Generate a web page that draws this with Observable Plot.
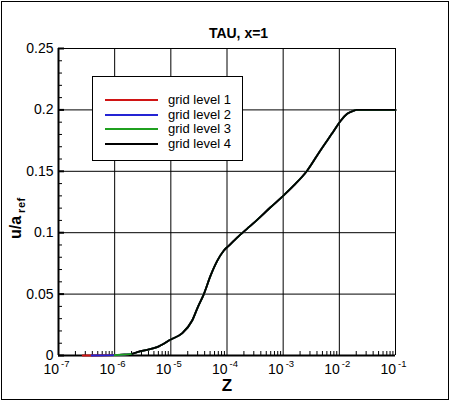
<!DOCTYPE html>
<html>
<head>
<meta charset="utf-8">
<script src="https://cdn.jsdelivr.net/npm/d3@7"></script>
<script src="https://cdn.jsdelivr.net/npm/@observablehq/plot@0.6"></script>
<style>
  body { margin: 0; background: white; }
  #wrap { position: relative; width: 450px; height: 401px; font-family: "Liberation Sans", Arial, sans-serif; }
  #chart svg { display: block; }
  #border { position: absolute; left: 1px; top: 1px; width: 448px; height: 399px; box-sizing: border-box; border: 1px solid #000; pointer-events: none; }
  #legend { position: absolute; left: 92px; top: 76px; width: 151px; height: 85px; box-sizing: border-box; border: 1px solid #000; background: white; }
  #legend .row { position: absolute; left: 0; height: 14px; width: 150px; }
  #legend .swatch { position: absolute; left: 12px; top: 6px; width: 53px; height: 2px; }
  #legend .name { position: absolute; left: 75px; top: 0; font-size: 13px; line-height: 14px; color: #000; white-space: nowrap; }
  #ylabel { position: absolute; left: 7.5px; top: 239px; transform-origin: 0 0; transform: rotate(-90deg);
    font-size: 16px; line-height: 16px; font-weight: bold; color: #000; white-space: nowrap; }
  #ylabel span { position: relative; top: 4px; margin-left: 3px; font-size: 11px; letter-spacing: 0.5px; }
</style>
</head>
<body>
<div id="wrap">
  <div id="chart"></div>
  <div id="legend"></div>
  <div id="ylabel">u/a<span>ref</span></div>
  <div id="border"></div>
</div>
<script>
// ticks and labels
const decades = [1e-7, 1e-6, 1e-5, 1e-4, 1e-3, 1e-2, 1e-1];
const decadeExponents = ["-7", "-6", "-5", "-4", "-3", "-2", "-1"];
const yTicks = [0, 0.05, 0.1, 0.15, 0.2, 0.25];
const yTickLabels = ["0", "0.05", "0.1", "0.15", "0.2", "0.25"];

// series
const levelNames = ["grid level 1", "grid level 2", "grid level 3", "grid level 4"];
const levelColors = ["#d01414", "#2424d4", "#1fa01f", "#000000"];
// first Z of each grid level (finer grids start closer to the wall)
const levelFirstZ = [2.7e-7, 3.9e-7, 1.0e-6, 2.05e-6];

// velocity profile (all levels lie on top of each other)
const profileZ = [2.7e-7, 3.9e-7, 1.0e-6, 1.5e-6, 2.05e-6, 2.9e-6, 5.7e-6, 1.0e-5, 1.58e-5, 2.4e-5,
  3.0e-5, 3.87e-5, 5.1e-5, 6.7e-5, 8.8e-5, 1.07e-4, 1.62e-4, 2.45e-4, 3.0e-4, 5.9e-4,
  1.0e-3, 1.55e-3, 2.67e-3, 4.6e-3, 8.0e-3, 1.05e-2, 1.38e-2, 1.8e-2, 2.0e-2, 1.0e-1];
const profileU = [0, 0, 0.0003, 0.0008, 0.0014, 0.0035, 0.0068, 0.013, 0.018, 0.0285,
  0.039, 0.050, 0.065, 0.077, 0.0855, 0.0893, 0.0972, 0.1045, 0.1080, 0.1205,
  0.1300, 0.1385, 0.1505, 0.167, 0.183, 0.191, 0.1968, 0.1993, 0.2, 0.2];

const rows = [];
levelNames.forEach((name, i) => {
  profileZ.forEach((z, j) => {
    if (z >= levelFirstZ[i]) rows.push({level: name, z: z, u: profileU[j]});
  });
});

const minorX = decades.slice(0, -1).flatMap(d => [2, 3, 4, 5, 6, 7, 8, 9].map(k => k * d));
const minorY = d3.range(1, 25).map(k => k / 100).filter(v => Math.round(v * 100) % 5 !== 0);

const font = "Liberation Sans, Arial, sans-serif";

const chart = Plot.plot({
  width: 450,
  height: 401,
  marginLeft: 58,
  marginRight: 55,
  marginTop: 48,
  marginBottom: 46,
  style: {fontFamily: font, background: "white", overflow: "visible"},
  x: {type: "log", domain: [1e-7, 1e-1]},
  y: {domain: [0, 0.25]},
  color: {domain: levelNames, range: levelColors},
  marks: [
    Plot.ruleX(decades, {stroke: "#000", strokeWidth: 1}),
    Plot.ruleY(yTicks, {stroke: "#000", strokeWidth: 1}),
    Plot.axisX({ticks: minorX, tickSize: -4, tickFormat: () => "", stroke: "#000", label: null}),
    Plot.axisY({ticks: minorY, tickSize: -4, tickFormat: () => "", stroke: "#000", label: null}),
    Plot.axisY({ticks: yTicks, tickSize: -6, strokeWidth: 2, tickFormat: () => "", stroke: "#000", label: null}),
    Plot.axisY({ticks: yTicks, tickSize: 0, tickPadding: 5, fontSize: 14, fill: "#000",
      tickFormat: (d, i) => yTickLabels[i], label: null}),
    Plot.ruleX([1e-7], {stroke: "#000", strokeWidth: 2}),
    Plot.ruleY([0], {stroke: "#000", strokeWidth: 2}),
    Plot.line(rows, {x: "z", y: "u", z: "level", stroke: "level", strokeWidth: 1.8, curve: "monotone-x"}),
    // x tick labels 10^n
    Plot.text(decades, {x: d => d, frameAnchor: "bottom", text: () => "10", textAnchor: "end",
      lineAnchor: "bottom", dx: 0.5, dy: 18, fontSize: 14, fill: "#000"}),
    Plot.text(decades, {x: d => d, frameAnchor: "bottom", text: (d, i) => decadeExponents[i], textAnchor: "start",
      lineAnchor: "bottom", dx: 2.5, dy: 11, fontSize: 9.5, fill: "#000"}),
    // titles
    Plot.text(["TAU, x=1"], {frameAnchor: "top", lineAnchor: "bottom", dx: 11.5, dy: -11,
      fontSize: 14, fontWeight: "bold", fill: "#000"}),
    Plot.text(["Z"], {frameAnchor: "bottom", lineAnchor: "bottom", dy: 35,
      fontSize: 17, fontWeight: "bold", fill: "#000"})
  ]
});

d3.select("#chart").append(() => chart);

// legend box
const legendRowTops = [16, 31, 45, 60];
const legend = d3.select("#legend");
levelNames.forEach((name, i) => {
  const row = legend.append("div").attr("class", "row").style("top", legendRowTops[i] + "px");
  row.append("div").attr("class", "swatch").style("background", levelColors[i]);
  row.append("div").attr("class", "name").text(name);
});
</script>
</body>
</html>
